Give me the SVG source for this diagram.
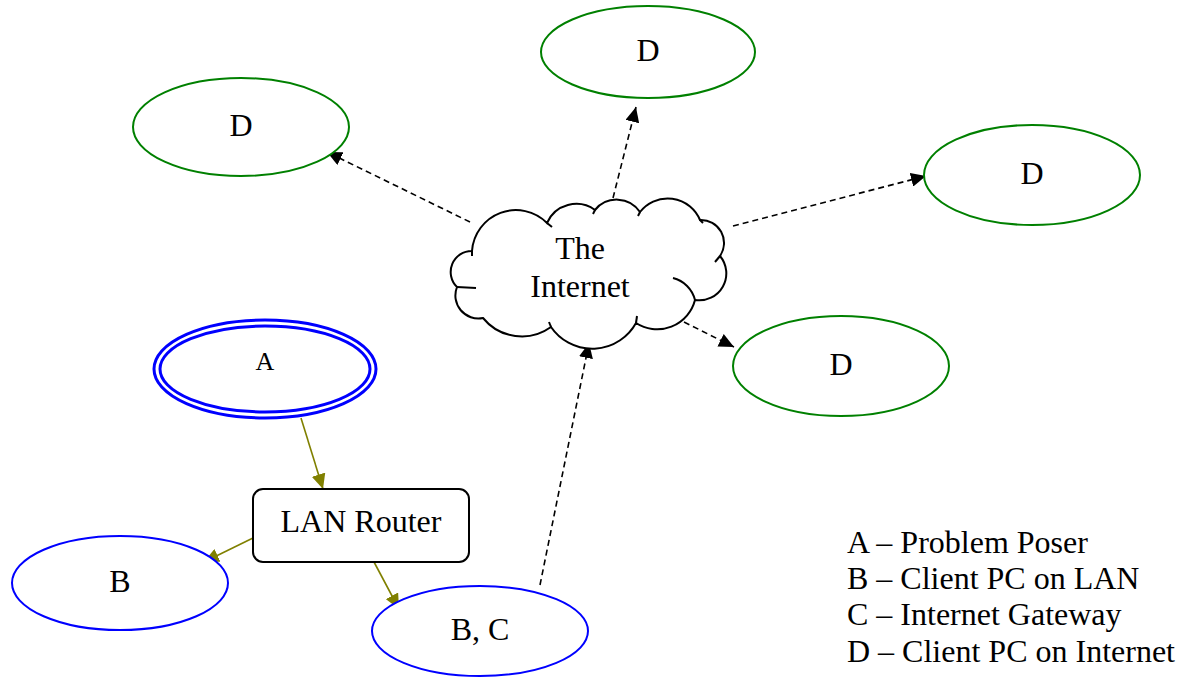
<svg xmlns="http://www.w3.org/2000/svg" width="1183" height="683" viewBox="0 0 1183 683">
<style>
  text { font-family: "Liberation Serif", "Times New Roman", serif; fill: #000; }
  .lbl { font-size: 32px; text-anchor: middle; }
  .lgd { font-size: 32px; }
  .green { fill: #fff; stroke: #008000; stroke-width: 2; }
  .blue { fill: #fff; stroke: #0000ff; stroke-width: 2; }
  .dbl { fill: none; stroke: #0000ff; stroke-width: 3; }
  .dash { fill: none; stroke: #000; stroke-width: 1.6; stroke-dasharray: 6 4; marker-end: url(#ah); }
  .olive { fill: none; stroke: #808000; stroke-width: 1.6; marker-end: url(#ao); }
  .cloud { fill: #fff; stroke: #000; stroke-width: 2; }
  .inner { fill: none; stroke: #000; stroke-width: 2; }
</style>
<defs>
  <marker id="ah" markerUnits="userSpaceOnUse" markerWidth="16" markerHeight="14" refX="15" refY="7" orient="auto">
    <path d="M0,0 L15,7 L0,14 z" fill="#000"/>
  </marker>
  <marker id="ao" markerUnits="userSpaceOnUse" markerWidth="16" markerHeight="14" refX="15" refY="7" orient="auto">
    <path d="M0,0 L15,7 L0,14 z" fill="#808000"/>
  </marker>
</defs>

<g id="connectors">
  <line class="dash" x1="470" y1="222" x2="327" y2="152"/>
  <line class="dash" x1="613" y1="198" x2="636" y2="107"/>
  <line class="dash" x1="733" y1="226" x2="926" y2="176"/>
  <line class="dash" x1="684" y1="322" x2="734" y2="347"/>
  <line class="dash" x1="540" y1="585" x2="589" y2="343"/>
  <line class="olive" x1="301" y1="418" x2="323" y2="489"/>
  <line class="olive" x1="253" y1="538" x2="204" y2="562"/>
  <line class="olive" x1="374" y1="562" x2="399" y2="609"/>
</g>

<g id="cloud">
  <path class="cloud" d="M472,251 A44,44 0 0 1 547,223 A32,32 0 0 1 595,210 A28,28 0 0 1 640,212 A35,35 0 0 1 700,220 A23,23 0 0 1 720,256 A27,27 0 0 1 695,300 A39,39 0 0 1 636,323 A50,50 0 0 1 551,327 A50,50 0 0 1 483,318 A23,23 0 0 1 457,287 A21,21 0 0 1 472,251 Z"/>
  <path class="inner" d="M547,223 L552,227"/>
  <path class="inner" d="M472,251 L472,256"/>
  <path class="inner" d="M595,210 L593,214"/>
  <path class="inner" d="M640,212 L638,216"/>
  <path class="inner" d="M700,220 L703,223"/>
  <path class="inner" d="M720,256 L715,262"/>
  <path class="inner" d="M673,278 A30,30 0 0 1 695,300"/>
  <path class="inner" d="M636,323 L637,316"/>
  <path class="inner" d="M551,327 L549,322"/>
  <path class="inner" d="M457,287 L476,288"/>
  <text class="lbl" x="580" y="259">The</text>
  <text class="lbl" x="580" y="297">Internet</text>
</g>

<g id="d-top">
  <ellipse class="green" cx="648" cy="52" rx="107" ry="46"/>
  <text class="lbl" x="648" y="61">D</text>
</g>
<g id="d-left">
  <ellipse class="green" cx="241" cy="127" rx="108" ry="49"/>
  <text class="lbl" x="241" y="136">D</text>
</g>
<g id="d-right">
  <ellipse class="green" cx="1032" cy="175" rx="108" ry="50"/>
  <text class="lbl" x="1032" y="184">D</text>
</g>
<g id="d-lower">
  <ellipse class="green" cx="841" cy="366" rx="108" ry="50"/>
  <text class="lbl" x="841" y="375">D</text>
</g>

<g id="a">
  <ellipse class="dbl" cx="265" cy="369" rx="111" ry="49"/>
  <ellipse class="dbl" cx="265" cy="369" rx="105" ry="43"/>
  <text x="265" y="370" style="font-size:26px;text-anchor:middle">A</text>
</g>

<g id="router">
  <rect x="253" y="489" width="216" height="73" rx="10" fill="#fff" stroke="#000" stroke-width="2"/>
  <text class="lbl" x="361" y="532">LAN Router</text>
</g>

<g id="b">
  <ellipse class="blue" cx="120" cy="583" rx="108" ry="47"/>
  <text class="lbl" x="120" y="592">B</text>
</g>

<g id="bc">
  <ellipse class="blue" cx="480" cy="631" rx="108" ry="45"/>
  <text class="lbl" x="480" y="640">B, C</text>
</g>

<g id="legend">
  <text class="lgd" x="847" y="553">A – Problem Poser</text>
  <text class="lgd" x="847" y="589">B – Client PC on LAN</text>
  <text class="lgd" x="847" y="625">C – Internet Gateway</text>
  <text class="lgd" x="847" y="662">D – Client PC on Internet</text>
</g>
</svg>
